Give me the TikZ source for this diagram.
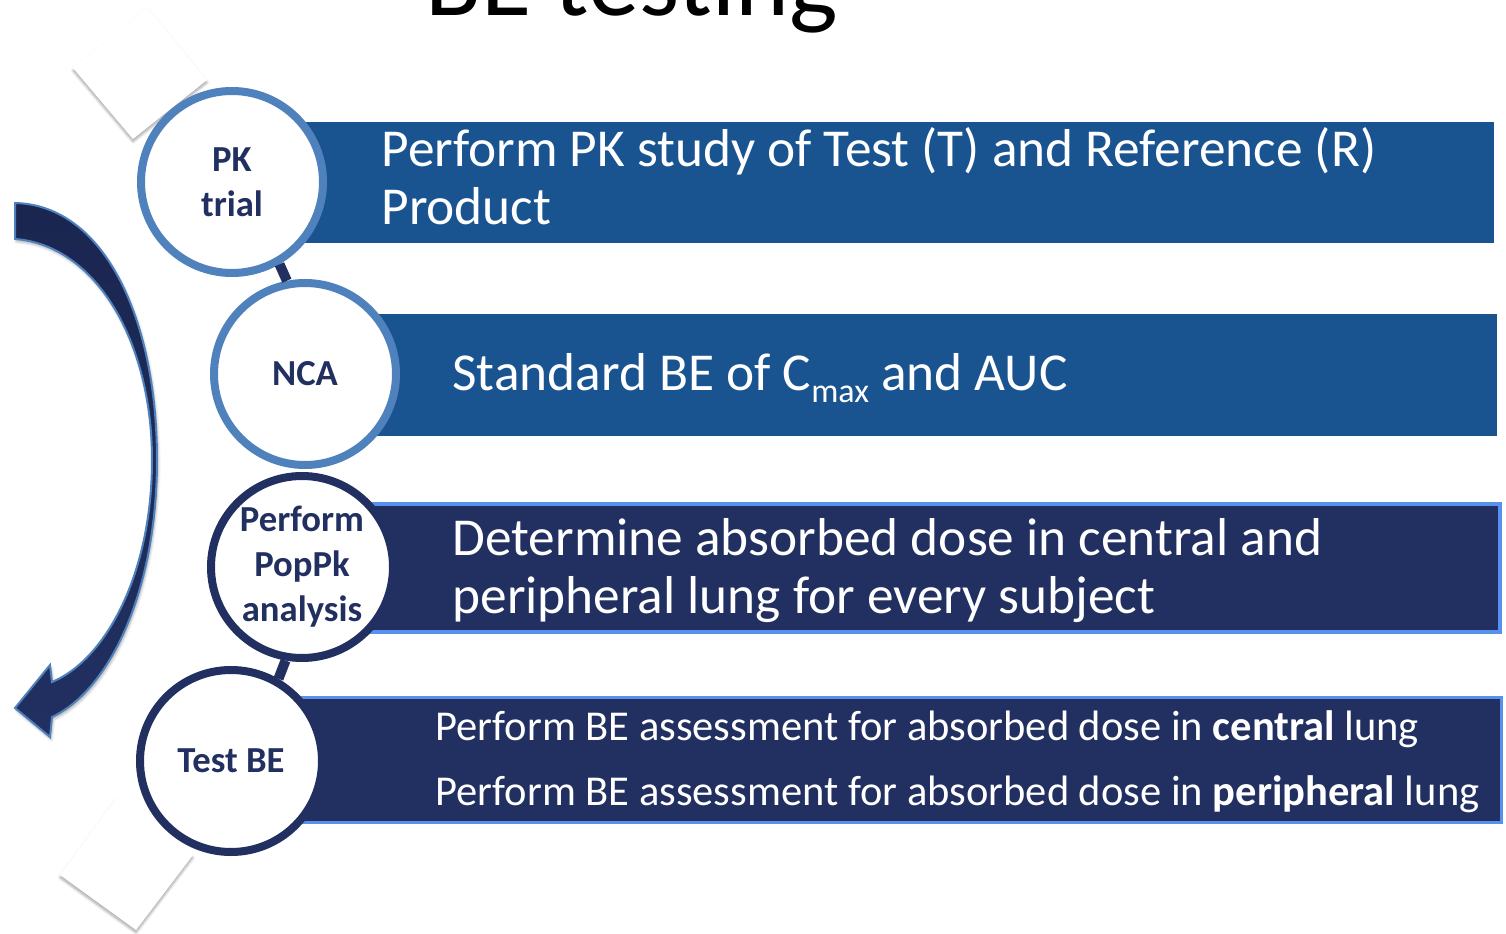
\documentclass[tikz,border=0pt]{standalone}
\usepackage{fontspec}
\setmainfont{Carlito}
\usetikzlibrary{shadows.blur}

\definecolor{barblue}{RGB}{25,84,145}
\definecolor{ringblue}{RGB}{79,129,189}
\definecolor{navy}{RGB}{33,48,97}
\definecolor{deepnavy}{RGB}{26,38,80}
\definecolor{edgeblue}{RGB}{86,145,240}

\tikzset{every picture/.style={line width=0.75pt}}

\begin{document}
\begin{tikzpicture}[x=0.75pt,y=0.75pt,yscale=-1,xscale=1,
  ring/.style={circle, fill=white, line width=6pt, minimum size=136.5pt, inner sep=0pt,
    align=center, text=navy, font=\fontsize{27.5}{33.75}\selectfont\bfseries},
  lightring/.style={ring, draw=ringblue},
  darkring/.style={ring, draw=navy},
  link/.style={draw=navy, line width=7.5pt},
  bartext/.style={anchor=base west, inner sep=0pt, align=left, text=white,
    font=\fontsize{40}{43.5}\selectfont},
  smalltext/.style={bartext, font=\fontsize{31.9}{48.75}\selectfont},
  card/.style={fill=white, blur shadow={shadow xshift=0pt, shadow yshift=-2pt,
    shadow opacity=35, shadow blur steps=6}}
]
\useasboundingbox (0,0) rectangle (1506,934);

% Title (runs off the top edge)
\node[anchor=base west, inner sep=0pt, font=\fontsize{77}{77}\selectfont] (title) at (425,16) {BE testing};

%Shape: white cards
\path[card] (73,68) -- (147,7) -- (207,80) -- (133,139) -- cycle;
\path[card] (117,797) -- (193,855) -- (136,930) -- (60,875) -- cycle;

%Shape: curved arrow
\shadedraw[top color=deepnavy, bottom color=navy, draw=ringblue, line width=1.5pt,
  blur shadow={shadow xshift=1pt, shadow yshift=-2pt, shadow opacity=30}]
  (15,203) .. controls (105,205) and (157,320) .. (157,460)
  .. controls (157,590) and (110,690) .. (52,717)
  -- (50,737) -- (15,708) -- (50,665) -- (52,682)
  .. controls (105,660) and (152,575) .. (152,460)
  .. controls (152,340) and (95,245) .. (15,239) -- cycle;

%Shape: bars
\fill[barblue] (232,122) rectangle (1494,243);
\fill[barblue] (305,314) rectangle (1497,436);
\draw[fill=navy, draw=edgeblue, line width=3pt] (302,504) rectangle (1500,632);
\draw[fill=navy, draw=edgeblue, line width=2.25pt] (231,697.5) rectangle (1501.5,822.5);

% Step circles
\node[lightring] (pk) at (232,182) {PK\\trial};
\node[lightring] (nca) at (305,374) {NCA};
\node[darkring] (poppk) at (302,567) {Perform\\PopPk\\analysis};
\node[darkring] (testbe) at (231,761) {Test BE};

\draw[link] (pk.-60) -- (nca.101);
\draw[link] (poppk.-100) -- (testbe.60);

% Text Node (base anchor sits on the last line)
\node[bartext] (pktext) at (381,225) {Perform PK study of Test (T) and Reference (R)\\Product};
% Text Node
\node[bartext] (ncatext) at (452,390) {Standard BE of C\raisebox{-0.24em}{\fontsize{25.5}{25.5}\selectfont max} and AUC};
% Text Node
\node[bartext] (poppktext) at (452,613) {Determine absorbed dose in central and\\peripheral lung for every subject};
% Text Node
\node[smalltext] (betext) at (435,805) {Perform BE assessment for absorbed dose in \textbf{central} lung\\Perform BE assessment for absorbed dose in \textbf{peripheral} lung};

\end{tikzpicture}
\end{document}
